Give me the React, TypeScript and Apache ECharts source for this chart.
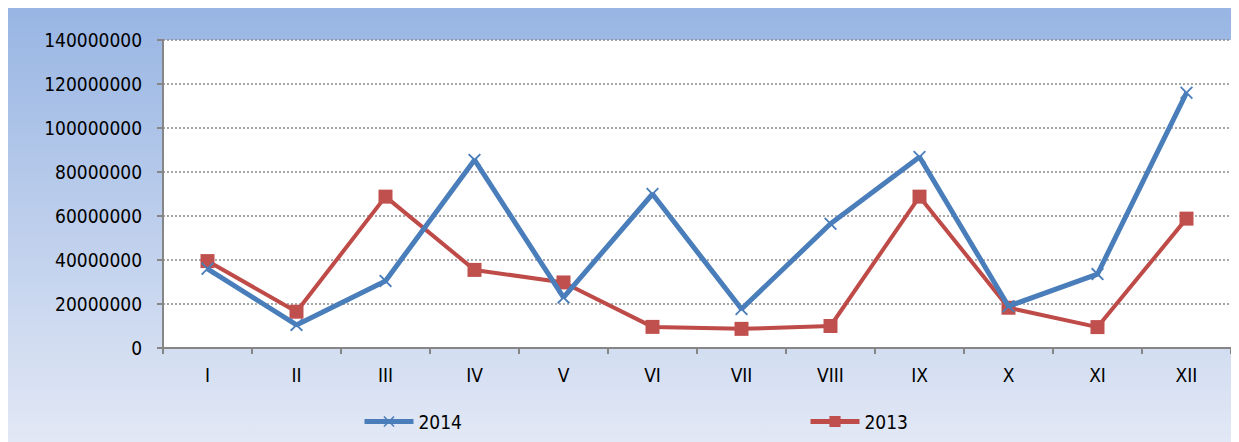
import React, { useEffect, useRef } from "react";
import * as echarts from "echarts";

const categories = ["I", "II", "III", "IV", "V", "VI", "VII", "VIII", "IX", "X", "XI", "XII"];
const series2014 = [36000000, 10500000, 30500000, 85500000, 23000000, 70000000, 17700000, 56500000, 86800000, 19000000, 33600000, 116000000];
const series2013 = [39500000, 16500000, 68800000, 35500000, 29800000, 9600000, 8700000, 10000000, 68800000, 18300000, 9500000, 58800000];
const yTicks = { min: 0, max: 140000000, interval: 20000000 };

const xPath = "path://M0,1.2L1.2,0L6,4.8L10.8,0L12,1.2L7.2,6L12,10.8L10.8,12L6,7.2L1.2,12L0,10.8L4.8,6Z";

export default function App() {
  const ref = useRef<HTMLDivElement>(null);
  useEffect(() => {
    if (!ref.current) return;
    const chart = echarts.init(ref.current, null, { renderer: "svg" });
    const font = "DejaVu Sans Condensed";
    const legendCommon = {
      top: 404,
      padding: 0,
      itemWidth: 49,
      itemHeight: 14,
      itemGap: 2,
      textStyle: { fontFamily: font, fontSize: 19, color: "#000" },
      lineStyle: { width: 5 },
    };
    chart.setOption({
      animation: false,
      backgroundColor: new echarts.graphic.LinearGradient(0, 0, 0, 1, [
        { offset: 0, color: "#98b5e3" },
        { offset: 1, color: "#e2e8f5" },
      ]),
      grid: {
        left: 155,
        top: 32,
        right: 8,
        bottom: 94,
        show: true,
        backgroundColor: "#ffffff",
        borderWidth: 0,
      },
      legend: [
        { ...legendCommon, data: ["2014"], left: 354 },
        { ...legendCommon, data: ["2013"], left: 800 },
      ],
      xAxis: {
        type: "category",
        data: categories,
        boundaryGap: true,
        axisLine: { lineStyle: { color: "#868686", width: 2 } },
        axisTick: { show: true, length: 6, lineStyle: { color: "#868686", width: 2 } },
        axisLabel: { fontFamily: font, fontSize: 19, color: "#000", margin: 17 },
        splitLine: { show: false },
      },
      yAxis: {
        type: "value",
        min: yTicks.min,
        max: yTicks.max,
        interval: yTicks.interval,
        axisLine: { show: true, lineStyle: { color: "#868686", width: 2 } },
        axisTick: { show: true, length: 6, lineStyle: { color: "#868686", width: 2 } },
        axisLabel: {
          fontFamily: font,
          fontSize: 19,
          color: "#000",
          margin: 21,
          formatter: (v: number) => String(v),
        },
        splitLine: { show: true, lineStyle: { color: "#8a8a8a", width: 1.5, type: [2, 2] } },
      },
      series: [
        {
          name: "2014",
          type: "line",
          data: series2014,
          symbol: xPath,
          symbolSize: 13,
          lineStyle: { color: "#4a7ebb", width: 5 },
          itemStyle: { color: "#4a7ebb" },
          z: 3,
        },
        {
          name: "2013",
          type: "line",
          data: series2013,
          symbol: "rect",
          symbolSize: 14,
          lineStyle: { color: "#be4b48", width: 4 },
          itemStyle: { color: "#c0504d" },
          z: 2,
        },
      ],
    });
    return () => chart.dispose();
  }, []);
  return <div ref={ref} style={{ width: 1231, height: 434 }} />;
}
